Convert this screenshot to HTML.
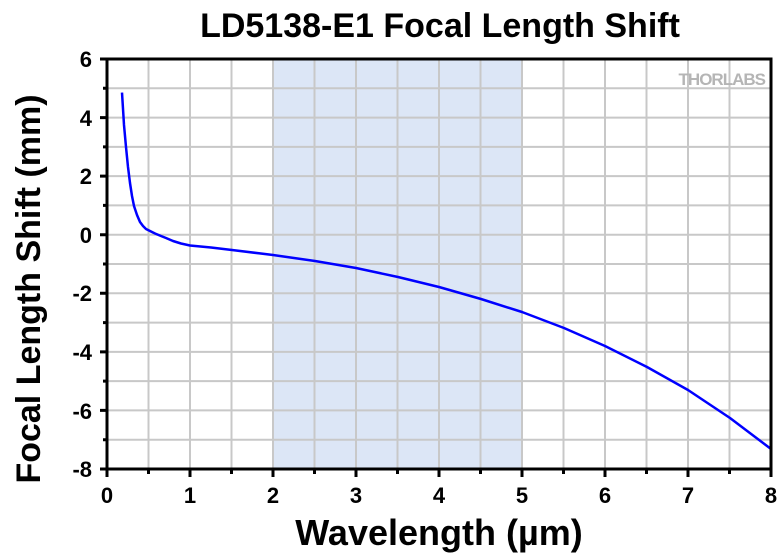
<!DOCTYPE html>
<html><head><style>body{margin:0;background:#fff}svg{display:block}</style></head><body>
<svg width="780" height="556" xmlns="http://www.w3.org/2000/svg" font-family="Liberation Sans, Arial, sans-serif" font-weight="bold">
<rect width="780" height="556" fill="#fff"/>
<text x="440" y="37" font-size="34" text-anchor="middle">LD5138-E1 Focal Length Shift</text>
<rect x="273" y="59" width="249" height="410" fill="#dce6f6"/>
<g stroke="#c8c8c8" stroke-width="2">
<path d="M148.5 59V469M190 59V469M231.5 59V469M273 59V469M314.5 59V469M356 59V469M397.5 59V469M439 59V469M480.5 59V469M522 59V469M563.5 59V469M605 59V469M646.5 59V469M688 59V469M729.5 59V469"/>
<path d="M107 88.3H771M107 117.6H771M107 146.9H771M107 176.1H771M107 205.4H771M107 234.7H771M107 264H771M107 293.3H771M107 322.6H771M107 351.9H771M107 381.1H771M107 410.4H771M107 439.7H771"/>
</g>
<text x="765" y="85" font-size="17" fill="#b5b5b5" text-anchor="end" letter-spacing="-1">THORLABS</text>
<polyline fill="none" stroke="#0000ff" stroke-width="2.5" stroke-linejoin="round" points="122,92.6 124,125 126,147 128,167 130,183 132,196 134,206 137,215 140,222 143,226 146,229 150,231 155,233.5 161,236 166,238 173,241 181,243.5 190,245.5 211,247.5 232,250 273,255 315,261 356,268 398,277 439,287 481,299 522,312 564,328 605,346 647,367 688,390 730,418 771,449"/>
<rect x="107" y="59" width="664" height="410" fill="none" stroke="#000" stroke-width="3"/>
<g stroke="#000" stroke-width="3">
<path d="M100 59H107M100 117.6H107M100 176.1H107M100 234.7H107M100 293.3H107M100 351.9H107M100 410.4H107M100 469H107"/>
<path d="M103 88.3H107M103 146.9H107M103 205.4H107M103 264H107M103 322.6H107M103 381.1H107M103 439.7H107"/>
<path d="M107 469V477M190 469V477M273 469V477M356 469V477M439 469V477M522 469V477M605 469V477M688 469V477M771 469V477"/>
<path d="M148.5 469V474M231.5 469V474M314.5 469V474M397.5 469V474M480.5 469V474M563.5 469V474M646.5 469V474M729.5 469V474"/>
</g>
<g font-size="22" text-anchor="end">
<text x="92" y="67">6</text><text x="92" y="126">4</text><text x="92" y="184">2</text><text x="92" y="243">0</text>
<text x="92" y="301">-2</text><text x="92" y="360">-4</text><text x="92" y="419">-6</text><text x="92" y="477">-8</text>
</g>
<g font-size="22" text-anchor="middle">
<text x="107" y="503">0</text><text x="190" y="503">1</text><text x="273" y="503">2</text><text x="356" y="503">3</text><text x="439" y="503">4</text><text x="522" y="503">5</text><text x="605" y="503">6</text><text x="688" y="503">7</text><text x="771" y="503">8</text>
</g>
<text x="439" y="545" font-size="36" text-anchor="middle">Wavelength (µm)</text>
<text transform="translate(40,289) rotate(-90)" font-size="34" text-anchor="middle">Focal Length Shift (mm)</text>
</svg>
</body></html>
